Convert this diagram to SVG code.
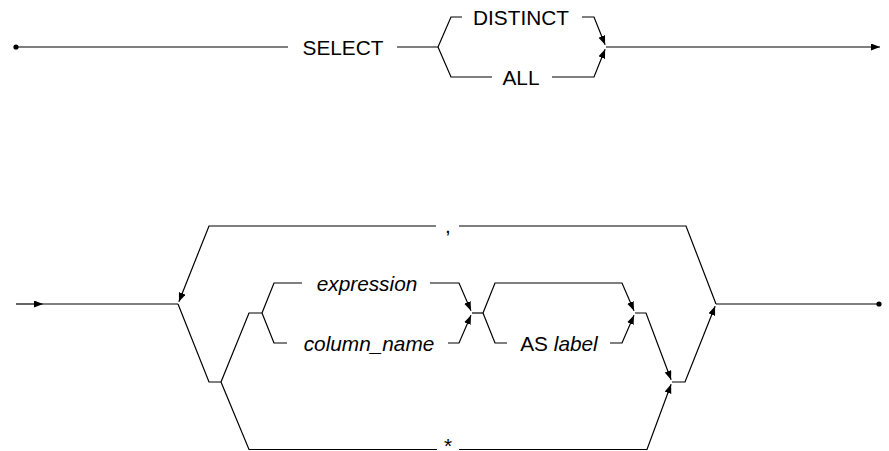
<svg xmlns="http://www.w3.org/2000/svg" width="889" height="451" viewBox="0 0 889 451">
<defs>
<style>
.ln{fill:none;stroke:#000;stroke-width:1.2;}
.t{font-family:"Liberation Sans",Arial,Helvetica,sans-serif;font-size:20.8px;fill:#000;text-anchor:middle;}
.i{font-style:italic;}
.dot{fill:#000;}
</style>
<marker id="arr" markerUnits="userSpaceOnUse" markerWidth="10" markerHeight="8" refX="9" refY="3.5" orient="auto">
<path d="M0,0 L9,3.5 L0,7 z" fill="#000"/>
</marker>
</defs>
<rect width="889" height="451" fill="#fff"/>
<g id="connectors">
<!-- top diagram -->
<path class="ln" d="M16,47 L288,47"/>
<path class="ln" d="M397,47 L438,47"/>
<path class="ln" d="M438,47 L451,17 L462,17"/>
<path class="ln" d="M438,47 L451,77 L492,77"/>
<path class="ln" d="M582,17 L594,17 L605.1,44.7" marker-end="url(#arr)"/>
<path class="ln" d="M552,77 L594,77 L605.1,49.3" marker-end="url(#arr)"/>
<path class="ln" d="M606,47 L880,47" marker-end="url(#arr)"/>
<!-- bottom diagram -->
<path class="ln" d="M16,304 L43,304" marker-end="url(#arr)"/>
<path class="ln" d="M43,304 L178,304"/>
<path class="ln" d="M716,304 L686,226 L459,226"/>
<path class="ln" d="M436,226 L209,226 L178.9,301.7" marker-end="url(#arr)"/>
<path class="ln" d="M178,304 L209,382 L221,382"/>
<path class="ln" d="M221,382 L249,313 L262,313"/>
<path class="ln" d="M221,382 L249,449.5 L437,449.5"/>
<path class="ln" d="M459,449.5 L647,449.5 L671.1,384.3" marker-end="url(#arr)"/>
<path class="ln" d="M262,313 L274,283 L302,283"/>
<path class="ln" d="M262,313 L274,343 L287,343"/>
<path class="ln" d="M430,283 L459,283 L471,310.7" marker-end="url(#arr)"/>
<path class="ln" d="M448,343 L459,343 L471,315.3" marker-end="url(#arr)"/>
<path class="ln" d="M472,313 L483,313"/>
<path class="ln" d="M483,313 L495,283 L622,283 L634,310.7" marker-end="url(#arr)"/>
<path class="ln" d="M483,313 L495,343 L507,343"/>
<path class="ln" d="M610,343 L622,343 L634,315.3" marker-end="url(#arr)"/>
<path class="ln" d="M635,313 L646,313 L671.1,379.7" marker-end="url(#arr)"/>
<path class="ln" d="M672,382 L685,382 L715.1,306.3" marker-end="url(#arr)"/>
<path class="ln" d="M716,304 L879,304"/>
</g>
<g id="start-top"><circle class="dot" cx="16" cy="47" r="2.6"/></g>
<g id="select"><text class="t" x="343" y="54.5">SELECT</text></g>
<g id="distinct"><text class="t" x="521" y="24.5">DISTINCT</text></g>
<g id="all"><text class="t" x="521" y="84.5">ALL</text></g>
<g id="comma"><text class="t" x="448" y="233">,</text></g>
<g id="expression"><text class="t i" x="367" y="290.5">expression</text></g>
<g id="column_name"><text class="t i" x="369" y="350.5">column_name</text></g>
<g id="as-label"><text class="t" x="559" y="350.5">AS <tspan class="i">label</tspan></text></g>
<g id="star"><text class="t" x="448" y="453">*</text></g>
<g id="end-bottom"><circle class="dot" cx="879" cy="304" r="2.6"/></g>
</svg>
